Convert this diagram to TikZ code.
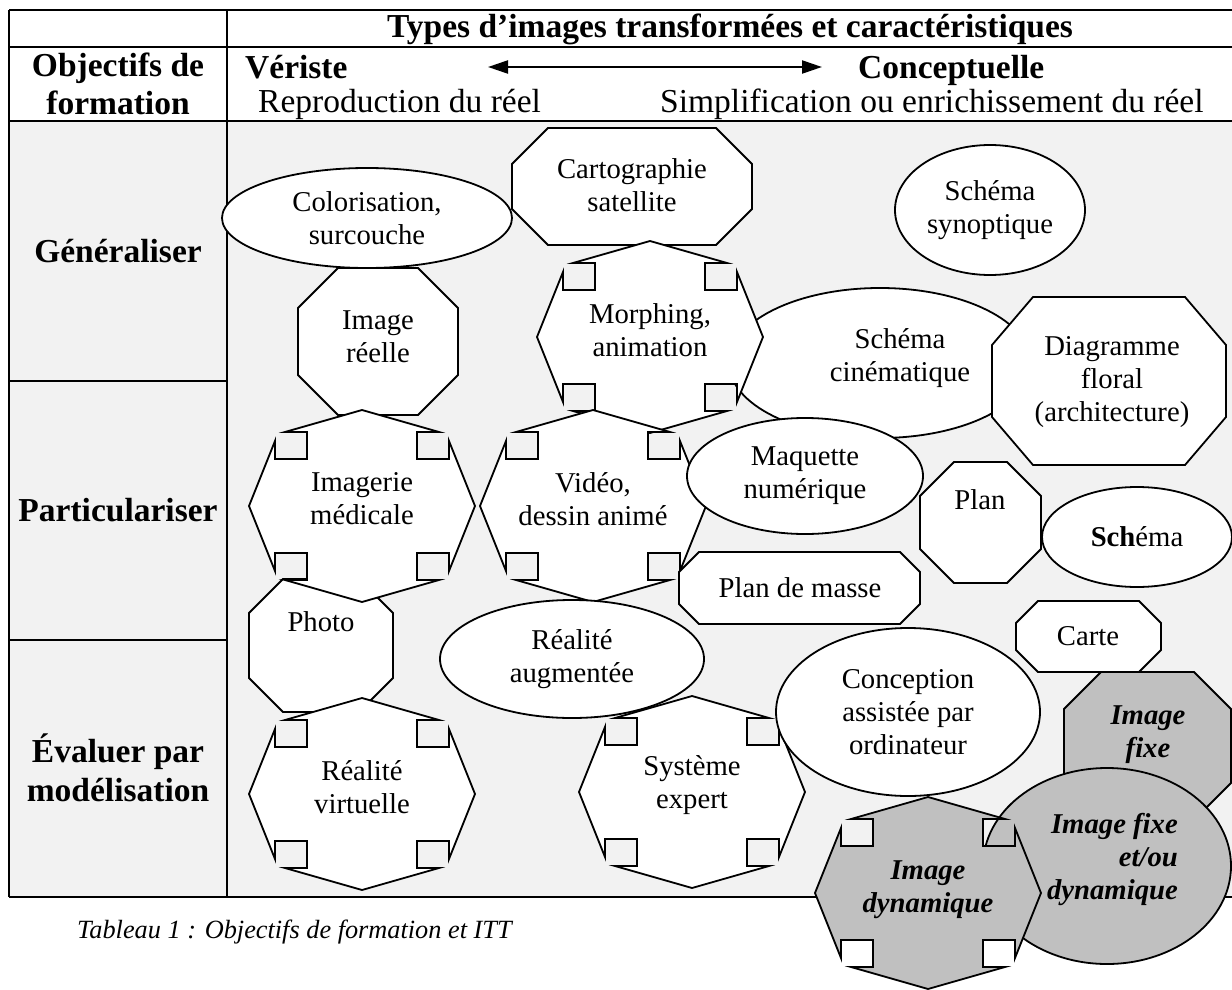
\documentclass[tikz,border=0pt]{standalone}
\usepackage{fontspec}
\setmainfont{Liberation Serif}
\usetikzlibrary{shapes.geometric,arrows.meta}

\definecolor{cellgray}{HTML}{F2F2F2}
\definecolor{shapegray}{HTML}{C0C0C0}

\tikzset{
  rule/.style={line width=2.5pt},
  shapeline/.style={draw=black, line width=1.8pt, line join=miter},
  txt/.style={font=\fontsize{28.7}{33}\selectfont, align=center, inner sep=0pt},
  hilite/.style={font=\bfseries\itshape\fontsize{28.7}{33}\selectfont, align=center, inner sep=0pt},
  head/.style={font=\bfseries\fontsize{33.5}{38.5}\selectfont, align=center, inner sep=0pt},
  headreg/.style={font=\fontsize{33.5}{38.5}\selectfont, inner sep=0pt},
  oval/.style={ellipse, shapeline, fill=white, inner sep=0pt, txt},
}

% octagon: x1, y1, x2, y2, chamfer x, chamfer y, fill
\newcommand{\octpath}[7]{%
  \draw[shapeline, fill=#7] (#1+#5,#2) -- (#3-#5,#2) -- (#3,#2+#6) -- (#3,#4-#6)
    -- (#3-#5,#4) -- (#1+#5,#4) -- (#1,#4-#6) -- (#1,#2+#6) -- cycle;}

% octagon with square notches: centre x, centre y, fill
\newcommand{\crossoct}[3]{%
  \draw[shapeline, fill=#3, shift={(#1,#2)}] (0,-96) -- (77,-74) -- (55,-74) -- (55,-47)
    -- (87,-47) -- (87,-65) -- (113,0) -- (87,65) -- (87,47) -- (55,47) -- (55,74)
    -- (77,74) -- (0,96) -- (-77,74) -- (-55,74) -- (-55,47) -- (-87,47) -- (-87,65)
    -- (-113,0) -- (-87,-65) -- (-87,-47) -- (-55,-47) -- (-55,-74) -- (-77,-74) -- cycle;}

\begin{document}
\begin{tikzpicture}[x=1pt,y=-1pt]
\useasboundingbox (0,0) rectangle (1232,990);
\fill[cellgray] (9,121) rectangle (1240,897);

\foreach \y in {10,47,121,897}{
  \draw[rule] (9,\y) -- (1240,\y);
}
\foreach \y in {381,640}{
  \draw[rule] (9,\y) -- (227,\y);
}
\draw[rule] (9,10) -- (9,897);
\draw[rule] (227,10) -- (227,897);

% header
\node[head] (title) at (730,29) {Types d’images transformées et caractéristiques};
\node[head] (objectifs) at (118,84) {Objectifs de\\formation};
\node[head, anchor=base west] (veriste) at (245,79) {Vériste};
\node[head, anchor=base west] (concept) at (858,79) {Conceptuelle};
\node[headreg, anchor=base west] (reprod) at (258,113) {Reproduction du réel};
\node[headreg, anchor=base west] (simplif) at (660,113) {Simplification ou enrichissement du réel};
\coordinate (arrl) at (488,67);
\coordinate (arrr) at (822,67);
\draw[line width=2.2pt, {Triangle[length=20pt,width=13pt]}-{Triangle[length=20pt,width=13pt]}] (arrl) -- (arrr);

\node[head] (gen) at (118,251) {Généraliser};
\node[head] (part) at (118,510) {Particulariser};
\node[head] (evaluer) at (118,768) {Évaluer par\\modélisation};

\node[font=\itshape\fontsize{26.3}{30}\selectfont, anchor=west, inner sep=0pt] (caption) at (77,932) {Tableau 1 : Objectifs de formation et ITT};

% shapes at the back
\node[oval, minimum width=290pt, minimum height=100pt] (coloris) at (367,218) {Colorisation,\\surcouche};
\octpath{512}{128}{752}{245}{36}{36}{white}
\node[txt] (carto) at (632,185) {Cartographie\\satellite};
\node[oval, minimum width=190pt, minimum height=130pt] (synopt) at (990,210) {Schéma\\synoptique};
\octpath{298}{268}{458}{415}{40}{40}{white}
\node[txt] (reelle) at (378,337) {Image\\réelle};
\node[oval, minimum width=302pt, minimum height=150pt] (cine) at (880,363) {};
\node[txt] (cinetxt) at (900,358) {Schéma\\cinématique};
\octpath{249}{579}{393}{712}{34}{34}{white}
\node[txt] (photo) at (321,622) {Photo};

\foreach \nm/\cx/\cy/\lbl in {morph/650/337/{Morphing,\\animation}, imag/362/506/{Imagerie\\médicale}, video/593/506/{Vidéo,\\dessin animé}, virt/362/794/{Réalité\\virtuelle}, expert/692/792/{Système\\expert}}{
  \crossoct{\cx}{\cy}{white}
  \node[txt] (\nm) at (\cx,\cy-7) {\lbl};
}

% shapes in front
\node[oval, minimum width=236pt, minimum height=116pt] (maquette) at (805,476) {Maquette\\numérique};
\octpath{992}{297}{1226}{465}{41}{48}{white}
\node[txt] (floral) at (1112,382) {Diagramme\\floral\\(architecture)};
\octpath{920}{462}{1041}{583}{34}{34}{white}
\node[txt] (plan) at (980,500) {Plan};
\node[oval, minimum width=190pt, minimum height=100pt] (schema) at (1137,537) {{\bfseries Sch}éma};
\octpath{679}{552}{920}{624}{20}{20}{white}
\node[txt] (masse) at (800,588) {Plan de masse};
\node[oval, minimum width=264pt, minimum height=118pt] (augm) at (572,659) {Réalité\\augmentée};
\node[oval, minimum width=264pt, minimum height=168pt] (cao) at (908,712) {Conception\\assistée par\\ordinateur};
\octpath{1016}{601}{1161}{672}{22}{22}{white}
\node[txt] (carte) at (1088,636) {Carte};

% grey keys
\octpath{1064}{672}{1231}{820}{37}{37}{shapegray}
\node[hilite] (fixe) at (1148,735) {Image\\fixe};
\node[oval, fill=shapegray, minimum width=248pt, minimum height=196pt] (fixdyn) at (1107,866) {};
\node[hilite, align=right, anchor=east] (fixdyntxt) at (1178,859) {Image fixe\\et/ou\\dynamique};
\crossoct{928}{893}{shapegray}
\node[hilite] (dyn) at (928,890) {Image\\dynamique};
\end{tikzpicture}
\end{document}
